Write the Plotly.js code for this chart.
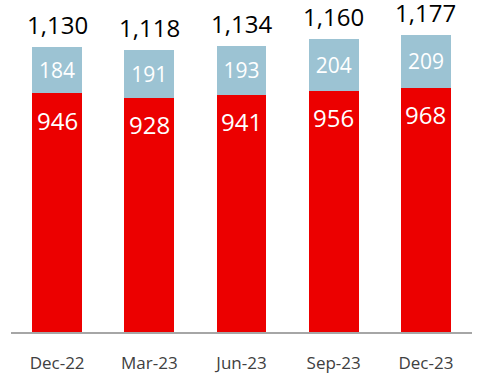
<!DOCTYPE html>
<html>
<head>
<meta charset="utf-8">
<script src="https://cdn.plot.ly/plotly-3.0.1.min.js"></script>
<style>html,body{margin:0;padding:0;background:#fff;}#chart{width:482px;height:380px;}</style>
</head>
<body>
<div id="chart"></div>
<script>
const categories = ["Dec-22", "Mar-23", "Jun-23", "Sep-23", "Dec-23"];
const redValues = [946, 928, 941, 956, 968];
const blueValues = [184, 191, 193, 204, 209];
const totals = [1130, 1118, 1134, 1160, 1177];

const fmt = v => v.toLocaleString("en-US");

const traces = [
  {
    type: "bar", x: categories, y: redValues,
    marker: {color: "#EC0000"},
    hoverinfo: "skip", textposition: "none"
  },
  {
    type: "bar", x: categories, y: blueValues,
    marker: {color: "#9CC3D3"},
    text: blueValues.map(fmt),
    textposition: "inside", insidetextanchor: "middle",
    textfont: {family: "Open Sans", size: 21, color: "#ffffff"},
    hoverinfo: "skip"
  }
];

const annotations = [];
categories.forEach((c, i) => {
  annotations.push({
    x: c, y: totals[i], xref: "x", yref: "y",
    text: fmt(totals[i]), showarrow: false,
    yanchor: "bottom", yshift: 4,
    font: {family: "Open Sans", size: 24, color: "#000000"}
  });
  annotations.push({
    x: c, y: redValues[i], xref: "x", yref: "y",
    text: fmt(redValues[i]), showarrow: false,
    yanchor: "middle", yshift: -27,
    font: {family: "Open Sans", size: 24, color: "#ffffff"}
  });
});

const layout = {
  width: 482, height: 380,
  margin: {l: 11, r: 10, t: 4, b: 48},
  barmode: "stack",
  bargap: 0.46,
  showlegend: false,
  paper_bgcolor: "#ffffff",
  plot_bgcolor: "#ffffff",
  xaxis: {
    showline: true, linecolor: "#A6A6A6", linewidth: 2,
    ticks: "", showgrid: false, zeroline: false,
    tickfont: {family: "Open Sans", size: 17, color: "#404040"},
    ticklabelstandoff: 15
  },
  yaxis: {
    range: [0, 1300], visible: false, showgrid: false, zeroline: false
  },
  annotations: annotations
};

Plotly.newPlot("chart", traces, layout, {displayModeBar: false, staticPlot: true});
</script>
</body>
</html>
